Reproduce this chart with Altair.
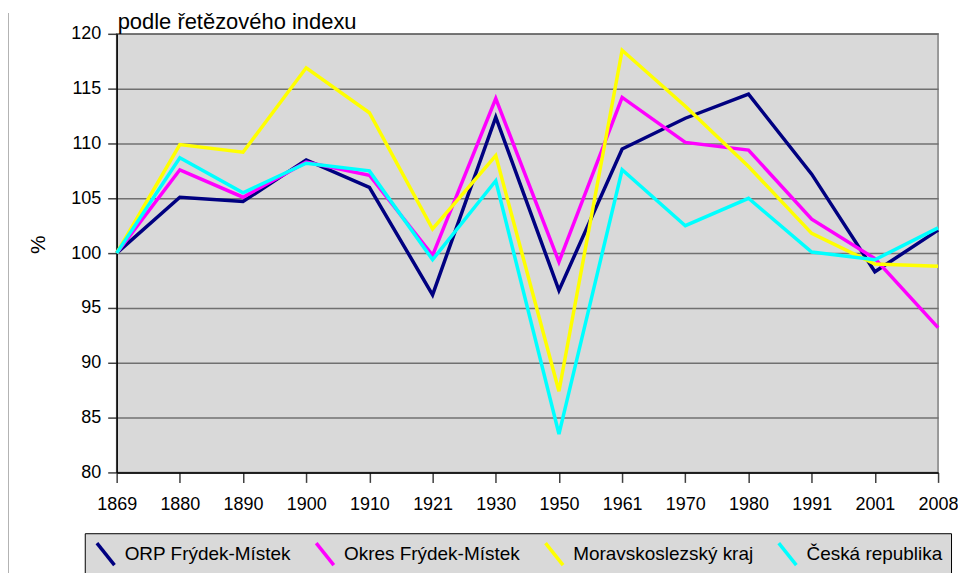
import altair as alt
import pandas as pd

years = ["1869", "1880", "1890", "1900", "1910", "1921", "1930", "1950",
         "1961", "1970", "1980", "1991", "2001", "2008"]
series_names = ["ORP Frýdek-Místek", "Okres Frýdek-Místek",
                "Moravskoslezský kraj", "Česká republika"]
orp = [100, 105.1, 104.7, 108.5, 106.0, 96.2, 112.4, 96.6, 109.5, 112.3, 114.5, 107.2, 98.3, 102.1]
okres = [100, 107.6, 105.1, 108.3, 107.1, 99.8, 114.1, 99.2, 114.2, 110.1, 109.4, 103.1, 99.5, 93.2]
msk = [100, 109.9, 109.2, 116.9, 112.8, 102.2, 108.9, 87.4, 118.5, 113.4, 107.9, 101.8, 99.0, 98.8]
cr = [100, 108.7, 105.5, 108.2, 107.5, 99.4, 106.6, 83.5, 107.6, 102.5, 105.0, 100.1, 99.4, 102.3]
colors = ["#000080", "#FF00FF", "#FFFF00", "#00FFFF"]
title_text = "podle řetězového indexu"

rows = []
for name, vals in zip(series_names, [orp, okres, msk, cr]):
    for y, v in zip(years, vals):
        rows.append({"rok": y, "hodnota": v, "serie": name, "o": series_names.index(name)})
df = pd.DataFrame(rows)

FONT = "Liberation Sans"

lines = alt.Chart(df).mark_line(strokeWidth=3.5).encode(
    x=alt.X("rok:O", sort=years, scale=alt.Scale(type="point", padding=0),
            axis=alt.Axis(title=None, labelAngle=0, labelFontSize=18, labelFont=FONT,
                          labelColor="black", tickSize=10, tickColor="#404040",
                          tickWidth=1.5, domainColor="black", domainWidth=1.5,
                          labelPadding=13, grid=False)),
    y=alt.Y("hodnota:Q", scale=alt.Scale(domain=[80, 120], nice=False, zero=False),
            axis=alt.Axis(title="%", values=list(range(80, 121, 5)), labelFontSize=18,
                          labelFont=FONT, labelColor="black", tickSize=9,
                          tickColor="#404040", tickWidth=1.5, domainColor="black",
                          domainWidth=1.5, labelPadding=7, grid=True,
                          gridColor="#707070", gridWidth=1.5, titleFontSize=21,
                          titleFont=FONT, titleFontWeight="normal", titleColor="black",
                          titlePadding=22, titleY=211)),
    color=alt.Color("serie:N", sort=series_names,
                    scale=alt.Scale(domain=series_names, range=colors),
                    legend=alt.Legend(title=None, orient="none", legendX=-32, legendY=501,
                                      direction="horizontal", columns=4,
                                      symbolType="M-0.8,-1L0.8,1", symbolSize=484,
                                      symbolStrokeWidth=3.5, labelFontSize=19,
                                      labelFont=FONT, labelColor="black", labelOffset=6,
                                      labelLimit=0, columnPadding=18, padding=8,
                                      fillColor="#d9d9d9", strokeColor="black")),
    order=alt.Order("o:Q"),
)

# outer chart border (left edge only visible, as in the reference)
border = alt.Chart(pd.DataFrame({"a": [0]})).mark_rule(
    stroke="#808080", strokeWidth=1.2
).encode(x=alt.value(-109), y=alt.value(-21), y2=alt.value(600))

title = alt.Chart(pd.DataFrame({"t": [title_text]})).mark_text(
    align="left", baseline="alphabetic", fontSize=22, font=FONT, color="black"
).encode(x=alt.value(1), y=alt.value(-5), text="t:N")

chart = alt.layer(border, lines, title).properties(
    width=824, height=440,
    autosize=alt.AutoSizeParams(type="none"),
    padding={"left": 109, "top": 25, "right": 20, "bottom": 100},
).configure_view(fill="#d9d9d9", stroke="#808080", strokeWidth=1.5)

chart.save("out.html", embed_options={"renderer": "svg", "actions": False})
